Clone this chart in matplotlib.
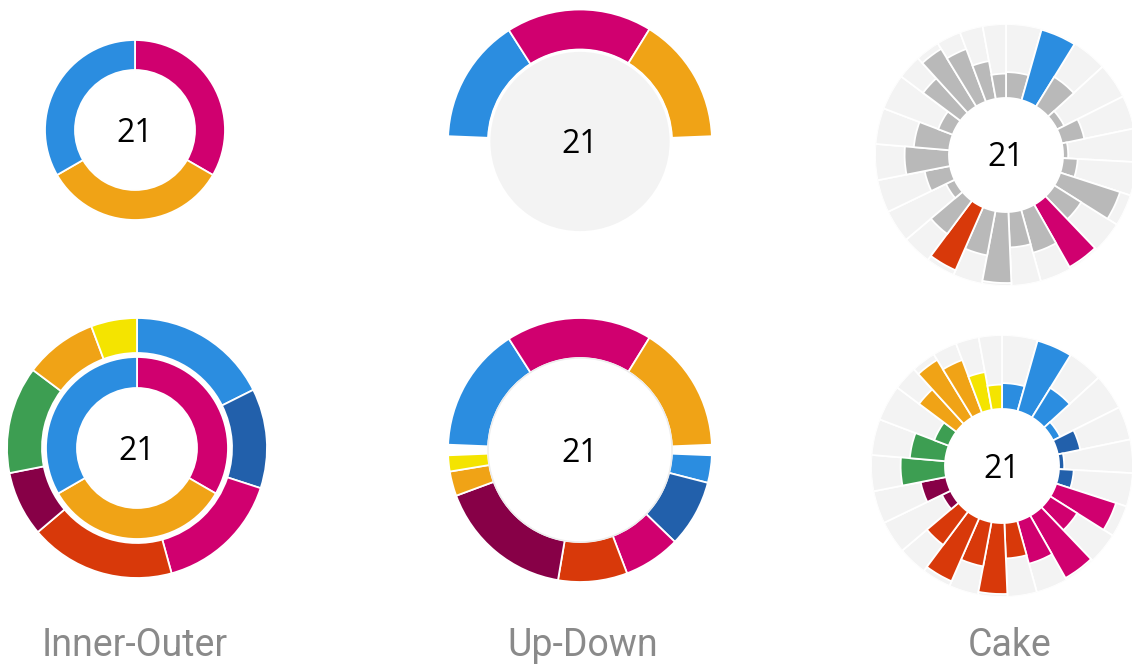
import numpy as np
import matplotlib.pyplot as plt

W, H = 1132, 666

# palette
BLUE = '#2b8de0'
DARK_BLUE = '#2260ab'
MAGENTA = '#d0006f'
ORANGE = '#f0a316'
RED = '#d8390a'
MAROON = '#870047'
GREEN = '#3d9e52'
YELLOW = '#f4e400'
GREY_BAR = '#b9b9b9'
GREY_BG = '#f3f3f3'
LABEL_GREY = '#8a8a8a'

total_label = '21'

# first level: three groups
inner_values = [7, 7, 7]
inner_colors = [MAGENTA, ORANGE, BLUE]

# second level
outer_values = [3.7, 2.6, 3.3, 3.8, 1.7, 2.8, 1.9, 1.2]
outer_colors = [BLUE, DARK_BLUE, MAGENTA, RED, MAROON, GREEN, ORANGE, YELLOW]

# halves of the up-down chart
up_values = [6.6, 7.7, 6.7]
up_colors = [BLUE, MAGENTA, ORANGE]
down_values = [1.45, 3.55, 3.0, 3.65, 7.2, 1.3, 0.85]
down_colors = [BLUE, DARK_BLUE, MAGENTA, RED, MAROON, ORANGE, YELLOW]

# single items of the cake (percent of full bar length)
cake_values = [35, 99, 47, 11, 31, 7, 20, 85, 43, 97, 60, 48, 96,
               61, 93, 56, 13, 35, 60, 48, 21, 63, 91, 76, 52, 33]
cake_groups = [4, 3, 4, 5, 2, 3, 3, 2]   # items in each second-level group
cake_highlight = {1: BLUE, 9: MAGENTA, 14: RED}

titles = ['Inner-Outer', 'Up-Down', 'Cake']

plt.rcParams['font.family'] = ['Open Sans', 'DejaVu Sans']
fig = plt.figure(figsize=(W / 100, H / 100), dpi=100)
fig.patch.set_facecolor('white')

edge = dict(edgecolor='white', linewidth=1.3)


def place(cx, cy, r, **kw):
    # square axes centred on pixel (cx, cy), one data unit per pixel
    return fig.add_axes([(cx - r) / W, 1 - (cy + r) / H, 2 * r / W, 2 * r / H], **kw)


def finish(ax, r):
    ax.set_xlim(-r, r)
    ax.set_ylim(-r, r)
    ax.set_aspect('equal')
    ax.axis('off')


def center_text(cx, cy):
    # baseline sits half a digit height below the centre
    fig.text(cx / W, 1 - (cy + 11.5) / H, total_label, ha='center', va='baseline',
             fontsize=23, color='black')


# Inner-Outer, single ring
ax = place(135, 130, 92)
ax.pie(inner_values, colors=inner_colors, radius=90, startangle=90, counterclock=False,
       wedgeprops=dict(width=30, **edge))
finish(ax, 92)
center_text(135, 130)

# Inner-Outer, two rings
ax = place(137, 448, 132)
ax.pie(outer_values, colors=outer_colors, radius=130, startangle=90, counterclock=False,
       wedgeprops=dict(width=35, **edge))
ax.pie(inner_values, colors=inner_colors, radius=91, startangle=90, counterclock=False,
       wedgeprops=dict(width=31, **edge))
finish(ax, 132)
center_text(137, 448)

# Up-Down
GAP = 2.3 / 360
HALF = 0.5 - 2 * GAP


def half_ring(ax, values, colors, start):
    frac = np.asarray(values, dtype=float) / np.sum(values) * HALF
    ax.pie(frac, colors=colors, radius=132, startangle=start, counterclock=False,
           normalize=False, wedgeprops=dict(width=40, **edge))


ax = place(580, 141.5, 134)
half_ring(ax, up_values, up_colors, 180 - GAP * 360)
ax.pie([1], colors=[GREY_BG], radius=91, wedgeprops=dict(edgecolor='white', linewidth=2))
finish(ax, 134)
center_text(580, 141.5)

ax = place(580, 450, 134)
half_ring(ax, up_values, up_colors, 180 - GAP * 360)
half_ring(ax, down_values, down_colors, -GAP * 360)
ax.pie([1], colors=['white'], radius=92, wedgeprops=dict(edgecolor='#ececec', linewidth=1))
finish(ax, 134)
center_text(580, 450)

# Cake: each second-level group keeps its ring angle, split evenly among its items
R_CAKE, R_HOLE = 131, 57
group_span = np.asarray(outer_values) / np.sum(outer_values) * 2 * np.pi
group_start = np.concatenate([[0], np.cumsum(group_span)[:-1]])
widths = np.repeat(group_span / np.asarray(cake_groups), cake_groups)
left = np.repeat(group_start, cake_groups) + np.concatenate(
    [np.arange(k) for k in cake_groups]) * widths
theta = left + widths / 2
heights = np.asarray(cake_values) / 100 * (R_CAKE - R_HOLE)

n = len(cake_values)
grey_colors = [cake_highlight.get(i, GREY_BAR) for i in range(n)]
group_colors = list(np.repeat(outer_colors, cake_groups))


def cake(cx, cy, colors):
    ax = place(cx, cy, R_CAKE, projection='polar')
    ax.set_theta_zero_location('N')
    ax.set_theta_direction(-1)
    ax.bar(theta, R_CAKE - R_HOLE, width=widths, bottom=R_HOLE, color=GREY_BG, **edge)
    ax.bar(theta, heights, width=widths, bottom=R_HOLE, color=colors, **edge)
    ax.set_ylim(0, R_CAKE)
    ax.axis('off')
    center_text(cx, cy)


cake(1006, 155, grey_colors)
cake(1002, 466, group_colors)

# titles under each column
for x, t in zip([135, 583, 1010], titles):
    fig.text(x / W, 1 - 645 / H, t, ha='center', va='center', fontsize=27,
             color=LABEL_GREY, family=['Roboto', 'DejaVu Sans'])

fig.savefig('out.png', dpi=100, facecolor='white')
